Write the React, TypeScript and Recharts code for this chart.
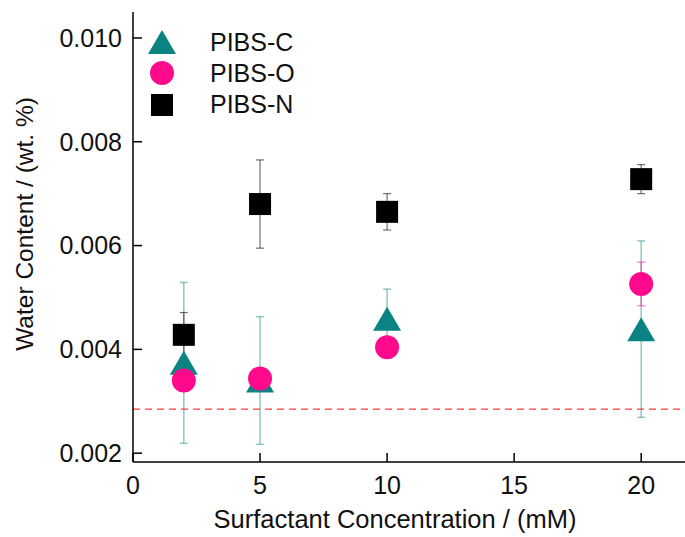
import React from "react";
import {
  ScatterChart,
  Scatter,
  XAxis,
  YAxis,
  ErrorBar,
  ReferenceLine,
} from "recharts";

const concentrations = [2, 5, 10, 20];

const pibsC = [0.00374, 0.0034, 0.00459, 0.00439];
const pibsCErr = [0.00155, 0.00123, 0.00057, 0.0017];

const pibsO = [0.0034, 0.00344, 0.00404, 0.00526];
const pibsOErr = [0.0001, 0.00006, 0.0001, 0.00042];

const pibsN = [0.00428, 0.0068, 0.00665, 0.00728];
const pibsNErr = [0.00043, 0.00085, 0.00035, 0.00028];

const xTicks = [0, 5, 10, 15, 20];
const yTicks = [0.002, 0.004, 0.006, 0.008, 0.01];
const baseline = 0.00285;

const TEAL = "#0b8382";
const PINK = "#ff0a8c";
const FONT = "'Liberation Sans', Arial, sans-serif";

const toRows = (vals: number[], errs: number[]) =>
  concentrations.map((x, i) => ({ x, y: vals[i], err: errs[i] }));

const dataC = toRows(pibsC, pibsCErr);
const dataO = toRows(pibsO, pibsOErr);
const dataN = toRows(pibsN, pibsNErr);

function Triangle({ cx, cy }: any) {
  return (
    <polygon
      points={`${cx},${cy - 12} ${cx + 14},${cy + 12} ${cx - 14},${cy + 12}`}
      fill={TEAL}
    />
  );
}

function Dot({ cx, cy }: any) {
  return <circle cx={cx} cy={cy} r={12} fill={PINK} />;
}

function Square({ cx, cy }: any) {
  return <rect x={cx - 11} y={cy - 11} width={22} height={22} fill="#000" />;
}

const Empty = () => <g />;

function ChartLegend() {
  const items = [
    { label: "PIBS-C", mark: <Triangle cx={162} cy={42} /> },
    { label: "PIBS-O", mark: <Dot cx={162} cy={73} /> },
    { label: "PIBS-N", mark: <Square cx={162} cy={105} /> },
  ];
  return (
    <svg
      width={300}
      height={130}
      style={{ position: "absolute", left: 0, top: 0, pointerEvents: "none" }}
    >
      {items.map((it, i) => (
        <g key={it.label}>
          {it.mark}
          <text
            x={210}
            y={51 + i * 31}
            fontSize={25}
            fontFamily={FONT}
            fill="#111"
          >
            {it.label}
          </text>
        </g>
      ))}
    </svg>
  );
}

const axisStroke = { stroke: "#000", strokeWidth: 1.5 };

export default function App() {
  return (
    <div
      style={{
        position: "absolute",
        left: 0,
        top: 0,
        width: 685,
        height: 537,
        overflow: "hidden",
        background: "#fff",
        fontFamily: FONT,
      }}
    >
      <ScatterChart
        width={692}
        height={537}
        margin={{ top: 12, right: 0, bottom: 0, left: 0 }}
      >
        <XAxis
          dataKey="x"
          type="number"
          domain={[0, 22]}
          ticks={xTicks}
          interval={0}
          height={75}
          tickSize={-9}
          tickMargin={23}
          axisLine={axisStroke}
          tickLine={axisStroke}
          tick={{ fontSize: 25, fill: "#111", fontFamily: FONT }}
          label={{
            content: () => (
              <text
                x={395}
                y={528}
                textAnchor="middle"
                fontSize={25.5}
                fontFamily={FONT}
                fill="#111"
              >
                Surfactant Concentration / (mM)
              </text>
            ),
          }}
        />
        <XAxis
          xAxisId="top"
          orientation="top"
          type="number"
          domain={[0, 22]}
          ticks={xTicks}
          interval={0}
          height={0}
          tickSize={-9}
          tick={false}
          axisLine={axisStroke}
          tickLine={axisStroke}
        />
        <YAxis
          dataKey="y"
          type="number"
          domain={[0.00183, 0.0105]}
          ticks={yTicks}
          interval={0}
          width={133}
          tickSize={-9}
          tickMargin={20}
          axisLine={axisStroke}
          tickLine={axisStroke}
          tickFormatter={(v: number) => v.toFixed(3)}
          tick={{ fontSize: 25, fill: "#111", fontFamily: FONT }}
          label={{
            content: () => (
              <text
                transform="translate(33,224) rotate(-90)"
                textAnchor="middle"
                fontSize={24.5}
                fontFamily={FONT}
                fill="#111"
              >
                Water Content / (wt. %)
              </text>
            ),
          }}
        />
        <YAxis
          yAxisId="right"
          orientation="right"
          type="number"
          domain={[0.00183, 0.0105]}
          ticks={yTicks}
          interval={0}
          width={0}
          tickSize={-9}
          tick={false}
          axisLine={axisStroke}
          tickLine={axisStroke}
        />
        <ReferenceLine
          y={baseline}
          stroke="#ff3b3b"
          strokeWidth={1.2}
          strokeDasharray="7 5"
        />
        <Scatter name="PIBS-C" data={dataC} shape={Triangle} isAnimationActive={false} />
        <Scatter name="PIBS-O" data={dataO} shape={Dot} isAnimationActive={false} />
        <Scatter name="PIBS-N" data={dataN} shape={Square} isAnimationActive={false} />
        <Scatter data={dataC} shape={Empty} isAnimationActive={false} legendType="none">
          <ErrorBar dataKey="err" direction="y" width={4} stroke={TEAL} strokeOpacity={0.45} strokeWidth={1.5} isAnimationActive={false} />
        </Scatter>
        <Scatter data={dataO} shape={Empty} isAnimationActive={false} legendType="none">
          <ErrorBar dataKey="err" direction="y" width={4} stroke={PINK} strokeOpacity={0.45} strokeWidth={1.5} isAnimationActive={false} />
        </Scatter>
        <Scatter data={dataN} shape={Empty} isAnimationActive={false} legendType="none">
          <ErrorBar dataKey="err" direction="y" width={4} stroke="#333" strokeOpacity={0.7} strokeWidth={1.2} isAnimationActive={false} />
        </Scatter>
      </ScatterChart>
      <ChartLegend />
    </div>
  );
}
